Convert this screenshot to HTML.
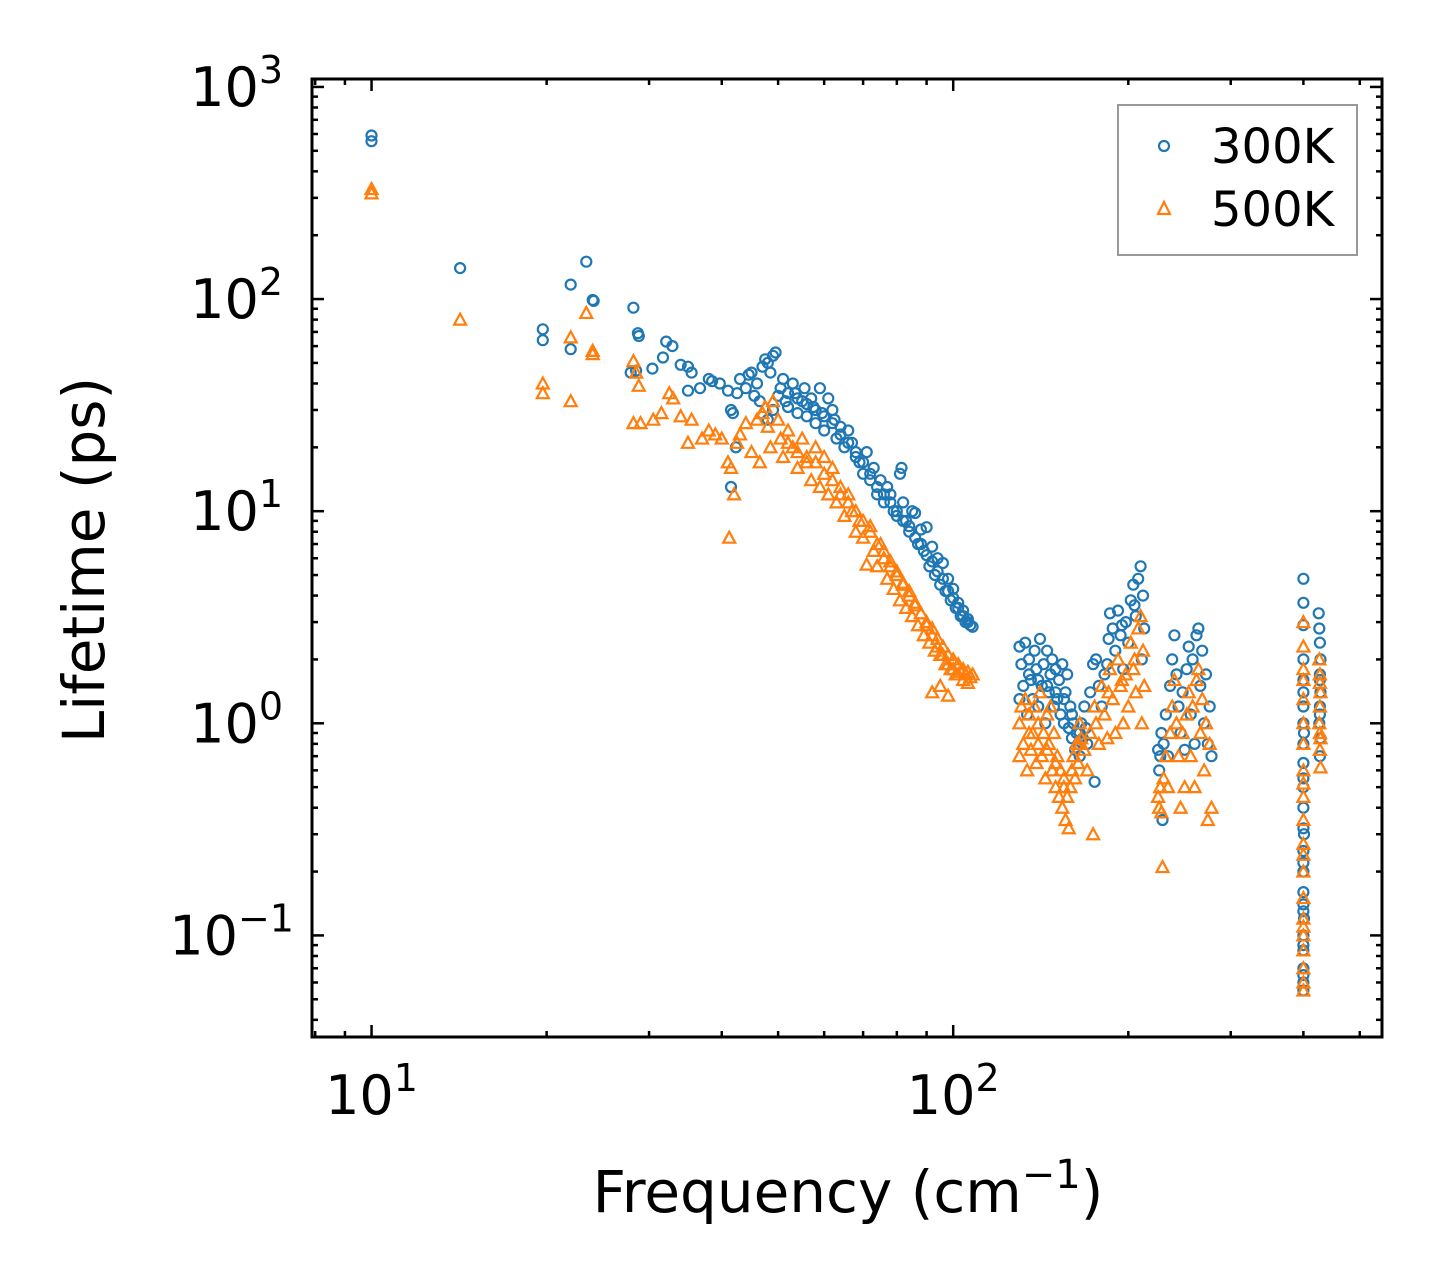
<!DOCTYPE html>
<html><head><meta charset="utf-8"><style>
html,body{margin:0;padding:0;background:#fff}
svg{display:block;font-family:"DejaVu Sans","Liberation Sans",sans-serif}
</style></head><body>
<svg id="chart" width="1442" height="1286" viewBox="0 0 1442 1286" xmlns="http://www.w3.org/2000/svg">
<rect width="1442" height="1286" fill="#fff"/>
<g id="marks300"></g>
<g id="marks500"></g>
<g id="ticks"></g>
<rect x="312" y="79" width="1070" height="958" fill="none" stroke="#000" stroke-width="3"/>
<text transform="translate(104,560) rotate(-90)" text-anchor="middle" font-size="58">Lifetime (ps)</text>
<text x="848" y="1212" text-anchor="middle" font-size="58">Frequency (cm<tspan dy="-24" font-size="40">−1</tspan><tspan dy="24">)</tspan></text>
<g>
<rect x="1118" y="105" width="239" height="150" fill="#fff" stroke="#999" stroke-width="2"/>
<circle cx="1164" cy="146" r="5" fill="none" stroke="#1f77b4" stroke-width="2.2"/>
<text x="1211" y="163" font-size="48">300K</text>
<polygon points="1164,202 1170,214 1158,214" fill="none" stroke="#ff7f0e" stroke-width="2.2"/>
<text x="1211" y="226" font-size="48">500K</text>
</g>
</svg>
<script>
const freq300=[10,10,14.2,19.7,19.7,22,22,23.4,24,24.1,28.2,28.7,28.8,27.9,28.5,30.4,31.7,32.1,32.9,34,35,35.5,35,36.7,38,38.5,39.7,41,41.5,41.8,41.5,42.3,42.5,43,44,44.5,45,45.5,46,46.5,47,47.5,48,48.5,49,49.5,48,49,50,50.5,51,51.5,52,53,53.5,54,55,55.5,56,57,57.5,58,59,59.5,60,61,62,62.5,63,64,65,66,67,68,69,70,71,72,73,74,75,76,77,78,79,80,81,81.5,82,83,84,85,86,87,88,89,90,91,92,93,94,95,96,97,98,99,100,101,102,103,104,105,106,107,108,
130,130,131,132,133,134,135,136,137,138,139,140,141,142,143,144,145,146,147,148,149,150,151,152,153,154,155,156,157,158,159,160,161,162,163,164,165,166,167,168,169,170,175,172,174,176,178,180,182,184,186,188,190,192,194,196,198,200,202,204,206,208,210,211,212,213,
225,226,227,228,229,230,232,234,236,238,240,242,244,246,248,250,252,254,256,258,260,262,264,266,268,270,272,274,276,278,
400,400,400,400,400,400,400,400,400,400,400,400,400,400,400,400,400,400,400,400,400,401,401,401,
425,426,427,428,427,428,427,426,428,427,
52,54,56,58,60,62,64,66,68,70,72,74,76,78,80,82,84,86,88,90,92,94,96,98,100,102,104,106,135,140,145,150,155,160,165,185,195,205,
400,400,400,400,400,400,427,427];
const life300=[590,555,140,72,64,117,58,150,99,98,91,69,67,45,46,47,53,63,60,49,48,45,37,38,42,41,40,37,30,29,13,20,36,42,38,44,45,35,40,33,48,52,50,45,54,56,27,30,35,38,42,33,31,40,36,29,33,38,28,34,31,26,38,29,24,34,30,27,22,25,20,24,21,18,17,15,19,14,16,12,14,11,13,12,10,9.5,15,16,11,9,8,10,9.8,7,8.2,6.5,8.4,5.5,6.8,5,6,4.5,5.7,4.2,4.8,3.8,4.3,3.5,3.7,3.2,3.4,3.0,3.1,2.9,2.85,
2.3,1.3,1.9,1.5,2.4,1.1,2.0,1.6,1.3,2.2,1.8,1.2,2.5,1.5,1.9,1.0,2.2,1.4,1.7,2.0,1.2,1.8,1.3,1.6,1.1,1.9,1.0,1.4,1.7,0.95,1.2,0.85,1.0,0.75,0.9,0.8,0.7,1.0,0.85,1.2,0.95,0.8,0.53,1.4,1.9,2.0,1.5,1.2,1.7,1.9,3.3,2.8,2.2,3.4,2.6,1.8,3.0,2.4,3.8,4.5,3.2,4.8,5.5,2.0,4.0,2.8,
0.75,0.6,0.7,0.9,0.35,0.8,1.1,0.7,1.5,2.0,2.6,1.7,1.2,0.9,1.4,0.75,1.8,2.3,1.1,2.0,0.8,2.6,2.8,1.5,2.2,1.0,1.7,0.8,1.2,0.7,
4.8,3.7,2.9,2.0,1.6,1.2,1.0,0.8,0.65,0.5,0.4,0.32,0.25,0.2,0.16,0.13,0.1,0.085,0.07,0.06,0.055,0.9,0.3,0.12,
3.3,2.8,2.4,2.0,1.7,1.4,1.2,1.0,0.85,0.7,
36,34,32,30,28,26,23,21,19,17,15,13,12,11,10,9,8.5,7.5,7,6.2,5.8,5.2,4.8,4.2,3.9,3.5,3.2,3.0,1.7,1.6,1.5,1.4,1.3,1.1,0.9,2.5,2.9,3.6,
1.4,0.55,0.22,0.14,0.09,0.065,1.6,1.1];
const freq500=[10,10,14.2,19.7,19.7,22,22,23.4,24,24,28.2,28.5,28.8,28.2,29,30.5,31.5,32.5,33,34,35,35.5,37,38,39,40,41,41.5,41.2,42,42.5,43,44,45,46,46.5,47,47.5,48,48.5,49,50,50.5,51,52,53,54,55,56,57,58,59,60,61,62,63,64,65,66,67,68,69,70,71,72,73,74,75,76,77,78,79,80,81,82,83,84,85,86,87,88,89,90,91,92,93,94,95,96,97,98,99,100,101,102,103,104,105,106,107,108,92,95,98,
130,130,131,132,133,134,135,136,137,138,139,140,141,142,143,144,145,146,147,148,149,150,151,152,153,154,155,156,157,158,159,160,161,162,163,164,165,166,168,170,172,174,175,176,178,180,182,184,186,188,190,192,194,196,198,200,202,204,206,208,210,211,212,213,
225,226,227,228,229,230,232,234,236,238,240,242,244,246,248,250,252,254,256,258,260,262,264,266,268,270,272,274,276,278,
400,400,400,400,400,400,400,400,400,400,400,400,400,400,400,400,400,400,
426,427,428,427,426,428,427,428,
52,54,56,58,60,62,64,66,68,70,72,74,76,78,80,82,84,86,88,90,92,94,96,98,100,102,104,106,135,140,145,150,155,160,165,185,195,205,
400,400,400,400,427,427];
const life500=[330,315,80,40,36,66,33,86,57,55,51,45,39,26,26,27,29,36,34,28,21,27,22,24,23,22,17,16,7.5,12,21,23,26,19,27,17,29,31,25,20,33,27,22,18,24,20,16,22,17,14,20,13,18,12,16,11,13,9.5,12,10,8,9,7.5,5.6,8.5,6.5,5.5,7,6,4.8,5.5,4.3,5,3.8,4.5,3.5,4,3.2,3.6,2.9,3.3,2.6,3,2.4,2.8,2.2,2.5,2.1,2.3,1.9,2.1,1.8,2.0,1.7,1.9,1.75,1.8,1.7,1.75,1.65,1.7,1.4,1.5,1.35,
1.0,0.7,1.2,0.8,1.3,0.6,1.1,0.75,0.9,1.2,0.65,1.0,1.4,0.7,0.9,0.55,1.1,0.8,1.2,0.6,0.9,0.5,0.7,0.45,0.6,0.4,0.5,0.35,0.45,0.32,0.5,0.6,0.7,0.55,0.8,0.65,1.0,0.85,0.75,0.6,0.9,0.3,1.2,1.0,0.8,1.5,1.1,0.85,1.8,1.3,0.9,2.0,1.5,1.0,1.7,1.2,2.4,1.8,1.4,2.8,3.2,1.0,2.2,1.5,
0.45,0.4,0.5,0.38,0.21,0.55,0.7,0.5,0.9,1.2,1.6,1.0,0.7,0.4,0.9,0.5,1.1,1.4,0.7,1.2,0.5,1.6,1.8,0.9,1.3,0.6,1.0,0.35,0.8,0.4,
3.0,2.3,1.8,1.3,1.0,0.8,0.6,0.45,0.35,0.27,0.2,0.15,0.12,0.1,0.085,0.07,0.06,0.055,
2.0,1.7,1.4,1.2,1.0,0.85,0.75,0.62,
21,19,18,17,15,14,12,11,10,9,8,7,6.5,5.8,5.2,4.6,4.2,3.7,3.3,2.9,2.6,2.3,2.1,1.9,1.8,1.7,1.6,1.55,0.9,0.8,0.75,0.65,0.55,0.6,0.8,1.4,1.6,2.0,
1.6,0.52,0.24,0.11,1.55,0.9];
const xTickVals=[10,100];
const xTickLabels=["1","2"];
const yTickVals=[0.1,1,10,100,1000];
const yTickLabels=["−1","0","1","2","3"];

const X0=312,X1=1382,Y0=79,Y1=1037;
const XMIN=Math.log10(7.9),XMAX=Math.log10(546);
const YMIN=Math.log10(0.0332),YMAX=Math.log10(1090);
function xs(v){return X0+(Math.log10(v)-XMIN)/(XMAX-XMIN)*(X1-X0);}
function ys(v){return Y1-(Math.log10(v)-YMIN)/(YMAX-YMIN)*(Y1-Y0);}
const NS="http://www.w3.org/2000/svg";
const g3=document.getElementById('marks300');
for(let i=0;i<freq300.length;i++){
  const c=document.createElementNS(NS,'circle');
  c.setAttribute('cx',xs(freq300[i]).toFixed(1));
  c.setAttribute('cy',ys(life300[i]).toFixed(1));
  c.setAttribute('r','5');
  c.setAttribute('fill','none');c.setAttribute('stroke','#1f77b4');c.setAttribute('stroke-width','2.2');
  
  
  g3.appendChild(c);
}
const g5=document.getElementById('marks500');
for(let i=0;i<freq500.length;i++){
  const x=xs(freq500[i]),y=ys(life500[i]);
  const p=document.createElementNS(NS,'polygon');
  p.setAttribute('points',`${x},${y-6} ${x+6},${y+5} ${x-6},${y+5}`);
  p.setAttribute('fill','none');p.setAttribute('stroke','#ff7f0e');p.setAttribute('stroke-width','2.2');
  
  
  g5.appendChild(p);
}
const gt=document.getElementById('ticks');
function line(x1,y1,x2,y2,w){const l=document.createElementNS(NS,'line');
  l.setAttribute('x1',x1);l.setAttribute('y1',y1);l.setAttribute('x2',x2);l.setAttribute('y2',y2);
  l.setAttribute('stroke','#000');l.setAttribute('stroke-width',w);
  
  
  gt.appendChild(l);}
for(let d=1;d<=100;d*=10){for(let m=1;m<=9;m++){const v=d*m;const lv=Math.log10(v);
  if(lv<XMIN||lv>XMAX)continue;const x=xs(v);const L=m===1?12:6;
  line(x,Y1,x,Y1-L,2.5);line(x,Y0,x,Y0+L,2.5);}}
for(let d=0.01;d<=1000;d*=10){for(let m=1;m<=9;m++){const v=d*m;const lv=Math.log10(v);
  if(lv<YMIN||lv>YMAX)continue;const y=ys(v);const L=m===1?12:6;
  line(X0,y,X0+L,y,2.5);line(X1,y,X1-L,y,2.5);}}
xTickVals.forEach((v,i)=>{const t=document.createElementNS(NS,'text');
  t.setAttribute('x',xs(v));t.setAttribute('y',1114);t.setAttribute('text-anchor','middle');t.setAttribute('font-size','54');
  t.innerHTML='10<tspan dy="-23" font-size="38">'+xTickLabels[i]+'</tspan>';
  
  
  gt.appendChild(t);});
yTickVals.forEach((v,i)=>{const t=document.createElementNS(NS,'text');
  t.setAttribute('x',i===0?294:283);t.setAttribute('y',ys(v)+19);t.setAttribute('text-anchor','end');t.setAttribute('font-size','54');
  t.innerHTML='10<tspan dy="-23" font-size="38">'+yTickLabels[i]+'</tspan>';
  
  
  gt.appendChild(t);});
</script>
</body></html>
